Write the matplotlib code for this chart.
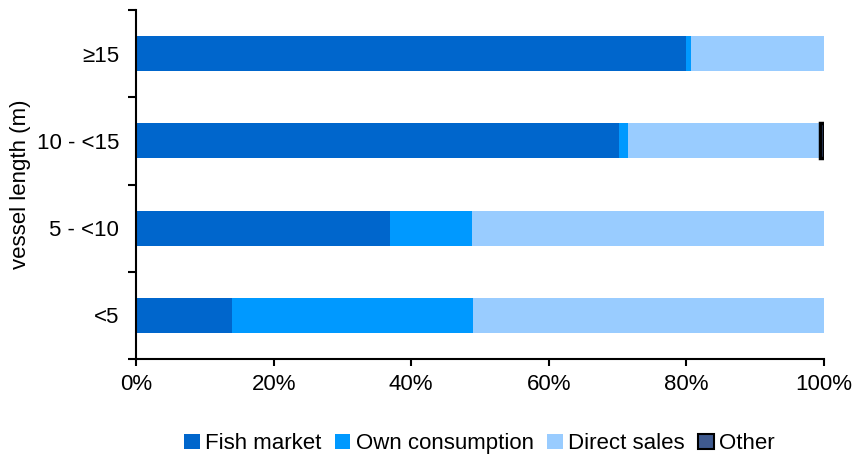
import matplotlib
matplotlib.use("Agg")
import matplotlib.pyplot as plt
import matplotlib.patches as patches
import numpy as np

plt.rcParams['font.family'] = ['Liberation Sans', 'DejaVu Sans']

# Data (shares in %)
categories = ['<5', '5 - <10', '10 - <15', '\u226515']
fish_market = [14.0, 36.9, 70.2, 79.9]
own_consumption = [35.0, 11.9, 1.3, 0.8]
direct_sales = [51.0, 51.2, 27.9, 19.3]
other = [0.0, 0.0, 0.6, 0.0]

series = [
    ('Fish market', fish_market, '#0066CC', 'none'),
    ('Own consumption', own_consumption, '#0099FF', 'none'),
    ('Direct sales', direct_sales, '#99CCFF', 'none'),
    ('Other', other, '#3F5A8F', 'black'),
]

FS = 16

fig = plt.figure(figsize=(8.61, 4.58), dpi=100)
ax = fig.add_axes([0.158, 0.216, 0.799, 0.762])

y = np.arange(len(categories))
left = np.zeros(len(categories))
for name, vals, color, edge in series:
    vals = np.array(vals)
    mask = vals > 0
    ax.barh(y[mask], vals[mask], left=left[mask], height=0.4, color=color,
            edgecolor=edge, linewidth=2.5 if edge != 'none' else 0)
    left += vals

ax.set_xlim(0, 100)
ax.set_ylim(-0.5, len(categories) - 0.5)
ax.set_xticks(np.arange(0, 101, 20))
ax.set_xticklabels([f'{v}%' for v in range(0, 101, 20)], fontsize=FS)
ax.set_yticks(y)
ax.set_yticklabels(categories, fontsize=FS)
ax.set_yticks(np.arange(-0.5, len(categories)), minor=True)
ax.tick_params(axis='y', which='major', length=0, pad=12)
ax.tick_params(axis='y', which='minor', length=6, width=1.5, direction='out')
ax.tick_params(axis='x', length=5, width=1.5, direction='out', pad=6)
ax.spines['top'].set_visible(False)
ax.spines['right'].set_visible(False)
for s in ['left', 'bottom']:
    ax.spines[s].set_linewidth(1.5)
ax.set_ylabel('vessel length (m)', fontsize=FS, labelpad=4)

handles = [patches.Patch(facecolor=c, edgecolor=('black' if e != 'none' else c),
                         linewidth=1.5 if e != 'none' else 0, label=n)
           for n, _, c, e in series]
fig.legend(handles=handles, loc='center', bbox_to_anchor=(0.557, 0.031), ncol=4,
           frameon=False, fontsize=FS, handlelength=0.7, handleheight=0.7,
           handletextpad=0.25, columnspacing=0.6)

fig.savefig('out.png', dpi=100)
